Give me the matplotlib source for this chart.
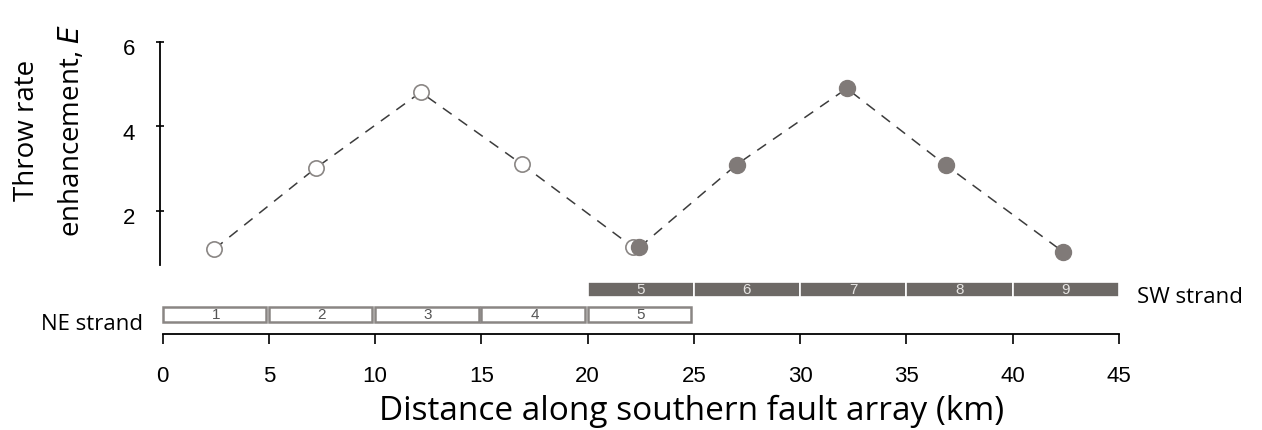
import matplotlib
matplotlib.use("Agg")
import matplotlib.pyplot as plt
import matplotlib.transforms as mtransforms
import numpy as np

# throw rate enhancement along each strand
ne_dist = [2.44, 7.22, 12.15, 16.9, 22.15]
ne_E = [1.10, 3.02, 4.81, 3.11, 1.14]
sw_dist = [22.44, 27.02, 32.2, 36.87, 42.36]
sw_E = [1.14, 3.10, 4.90, 3.08, 1.04]

# fault segments (start km, label)
ne_seg_start = [0, 5, 10, 15, 20]
ne_seg_label = ["1", "2", "3", "4", "5"]
sw_seg_start = [20, 25, 30, 35, 40]
sw_seg_label = ["5", "6", "7", "8", "9"]
seg_len = 5

xticks = [0, 5, 10, 15, 20, 25, 30, 35, 40, 45]
yticks = [2, 4, 6]

TXT = "Open Sans"
NUM = "Liberation Sans"
dark = "#6d6966"
mid = "#807a78"
edge = "#8a8684"

fig = plt.figure(figsize=(12.62, 4.30), dpi=100)
W, H = 1262, 430
xlo, xhi = -0.118, 45.15

# upper panel: E vs distance
ax = fig.add_axes([160 / W, (H - 265) / H, 962 / W, 223 / H])
ax.plot(ne_dist, ne_E, ls=(0, (7, 5.5)), color="#3c3c3c", lw=1.1, zorder=1)
ax.plot(sw_dist, sw_E, ls=(0, (7, 5.5)), color="#3c3c3c", lw=1.1, zorder=1)
ax.plot(ne_dist, ne_E, "o", ms=11, mfc="white", mec=edge, mew=1.2, ls="none", zorder=2)
ax.plot(sw_dist, sw_E, "o", ms=11.5, mfc=mid, mec=mid, ls="none", zorder=3)
ax.set_xlim(xlo, xhi)
ax.set_ylim(6 - 223 / 42.25, 6)
ax.set_yticks(yticks)
ax.set_xticks([])
for s in ["top", "right", "bottom"]:
    ax.spines[s].set_visible(False)
ax.spines["left"].set_linewidth(1.3)
ax.tick_params(axis="y", direction="inout", length=6, width=1.2, pad=15, labelsize=16)
off = mtransforms.ScaledTranslation(0, -5 / 100, fig.dpi_scale_trans)
for lab in ax.get_yticklabels():
    lab.set_fontfamily(NUM)
    lab.set_transform(lab.get_transform() + off)
ax.text(-113 / 21.25, 3.9, "Throw rate\nenhancement, $\\mathit{E}$", rotation=90,
        ha="center", va="center", multialignment="center", fontsize=20,
        family=TXT, linespacing=1.7)

# lower panel: segment bars and distance axis
bx = fig.add_axes([160 / W, (H - 334) / H, 962 / W, 59 / H])
bx.set_xlim(xlo, xhi)
bx.set_ylim(0, 1)
bx.barh(0.754, seg_len, left=sw_seg_start, height=0.254, color=dark,
        edgecolor="white", linewidth=1.2)
bx.barh(0.33, seg_len - 0.13, left=ne_seg_start, height=0.24, color="white",
        edgecolor=edge, linewidth=1.8)
for s, lab in zip(sw_seg_start, sw_seg_label):
    bx.text(s + seg_len / 2, 0.754, lab, ha="center", va="center", fontsize=11,
            color="#e6e4e2", family=NUM)
for s, lab in zip(ne_seg_start, ne_seg_label):
    bx.text(s + seg_len / 2, 0.33, lab, ha="center", va="center", fontsize=11,
            color="#555", family=NUM)
bx.text(45.86, 0.525, "SW strand", ha="left", va="baseline", fontsize=16, family=TXT)
bx.text(-0.92, 0.068, "NE strand", ha="right", va="baseline", fontsize=16, family=TXT)

for s in ["top", "right", "left"]:
    bx.spines[s].set_visible(False)
bx.spines["bottom"].set_linewidth(1.3)
bx.spines["bottom"].set_bounds(0, 45)
bx.set_yticks([])
bx.set_xticks(xticks)
bx.tick_params(axis="x", direction="out", length=7, width=1.2, pad=16, labelsize=16)
for lab in bx.get_xticklabels():
    lab.set_fontfamily(NUM)
bx.set_xlabel("Distance along southern fault array (km)", fontsize=24, family=TXT)
bx.xaxis.set_label_coords((692 - 160) / 962, (334 - 420) / 59)
bx.xaxis.label.set_va("baseline")

fig.savefig("out.png", dpi=100)
